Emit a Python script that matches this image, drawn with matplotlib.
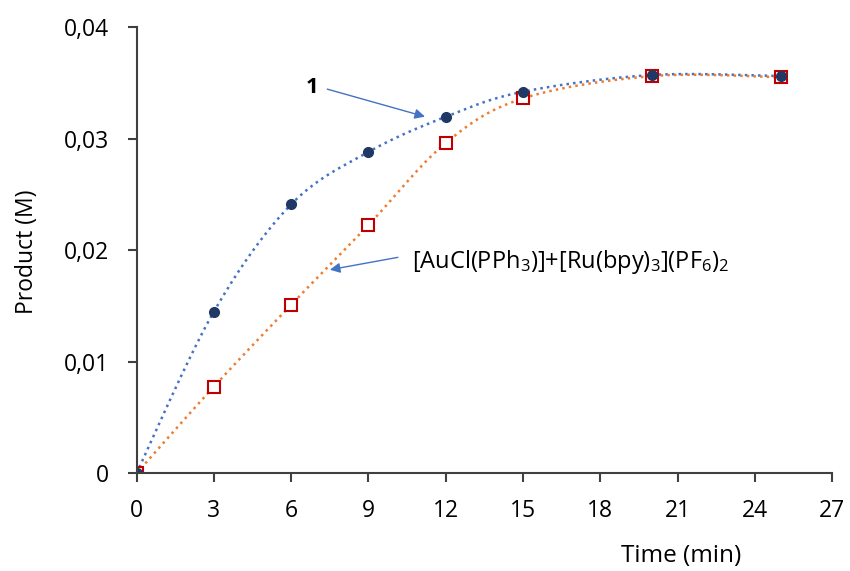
import numpy as np
import matplotlib
matplotlib.use("Agg")
import matplotlib.pyplot as plt

plt.rcParams['font.family'] = ['Open Sans', 'DejaVu Sans']
plt.rcParams['mathtext.fontset'] = 'custom'
plt.rcParams['mathtext.rm'] = 'Open Sans'
plt.rcParams['mathtext.it'] = 'Open Sans:italic'

# datos
tiempo = [0, 3, 6, 9, 12, 15, 20, 25]
prod_1 = [0, 0.01448, 0.0241, 0.0288, 0.03195, 0.0342, 0.0357, 0.0356]
prod_mezcla = [0, 0.00776, 0.0151, 0.02225, 0.0296, 0.0336, 0.0356, 0.0355]

x_ticks = [0, 3, 6, 9, 12, 15, 18, 21, 24, 27]
y_ticks = [0, 0.01, 0.02, 0.03, 0.04]
y_tick_labels = ['0', '0,01', '0,02', '0,03', '0,04']

azul = '#4472C4'
naranja = '#ED7D31'
marino = '#1F3864'
rojo = '#C00000'
gris = '#404040'


def linea_suavizada(x, y, n=40):
    """Curva Bezier tipo Excel ('línea suavizada') que pasa por todos los puntos."""
    p = np.column_stack([x, y]).astype(float)
    pts = [p[0:1]]
    for i in range(len(p) - 1):
        p0 = p[i - 1] if i > 0 else p[i]
        p1, p2 = p[i], p[i + 1]
        p3 = p[i + 2] if i + 2 < len(p) else p[i + 1]
        c1 = p1 + (p2 - p0) / 6
        c2 = p2 - (p3 - p1) / 6
        s = np.linspace(0, 1, n)[1:, None]
        seg = ((1 - s) ** 3) * p1 + 3 * ((1 - s) ** 2) * s * c1 + 3 * (1 - s) * s ** 2 * c2 + s ** 3 * p2
        pts.append(seg)
    curva = np.vstack(pts)
    return curva[:, 0], curva[:, 1]


fig = plt.figure(figsize=(8.5, 5.71), dpi=100)
ax = fig.add_axes([0.1606, 0.1711, 0.8184, 0.7816])

xs, ys = linea_suavizada(tiempo, prod_1)
ax.plot(xs, ys, ':', color=azul, linewidth=1.8)
xs, ys = linea_suavizada(tiempo, prod_mezcla)
ax.plot(xs, ys, ':', color=naranja, linewidth=1.8)

ax.plot(tiempo, prod_mezcla, 's', markersize=8.5, markerfacecolor='white',
        markeredgecolor=rojo, markeredgewidth=1.5, linestyle='none')
ax.plot(tiempo, prod_1, 'o', markersize=7, color=marino, linestyle='none')

ax.set_xlim(0, 27)
ax.set_ylim(0, 0.04)
ax.set_xticks(x_ticks)
ax.set_yticks(y_ticks)
ax.set_yticklabels(y_tick_labels)
ax.tick_params(direction='out', length=6.5, width=1.5, colors=gris,
               labelsize=16.5, labelcolor='black', pad=13)
ax.tick_params(axis='x', pad=12)
for lado in ['top', 'right']:
    ax.spines[lado].set_visible(False)
for lado in ['left', 'bottom']:
    ax.spines[lado].set_color(gris)
    ax.spines[lado].set_linewidth(1.5)

# anotaciones
ax.annotate('', xy=(11.3, 0.0319), xytext=(7.3, 0.0345),
            arrowprops=dict(arrowstyle='-|>', color=azul, lw=1, mutation_scale=15))
ax.text(6.8, 0.0346, '1', fontsize=16, fontweight='bold', ha='center', va='center')

ax.annotate('', xy=(7.4, 0.0182), xytext=(10.25, 0.0194),
            arrowprops=dict(arrowstyle='-|>', color=azul, lw=1, mutation_scale=15))
ax.text(10.69, 0.0189, '[AuCl(PPh$_3$)]+[Ru(bpy)$_3$](PF$_6$)$_2$',
        fontsize=17, ha='left', va='center')

fig.text(27 / 850, 1 - 252 / 571, 'Product (M)', rotation=90, fontsize=16.5,
         ha='center', va='center')
fig.text(681 / 850, 1 - 556 / 571, 'Time (min)', fontsize=17.5,
         ha='center', va='center')

fig.savefig('out.png', dpi=100)
